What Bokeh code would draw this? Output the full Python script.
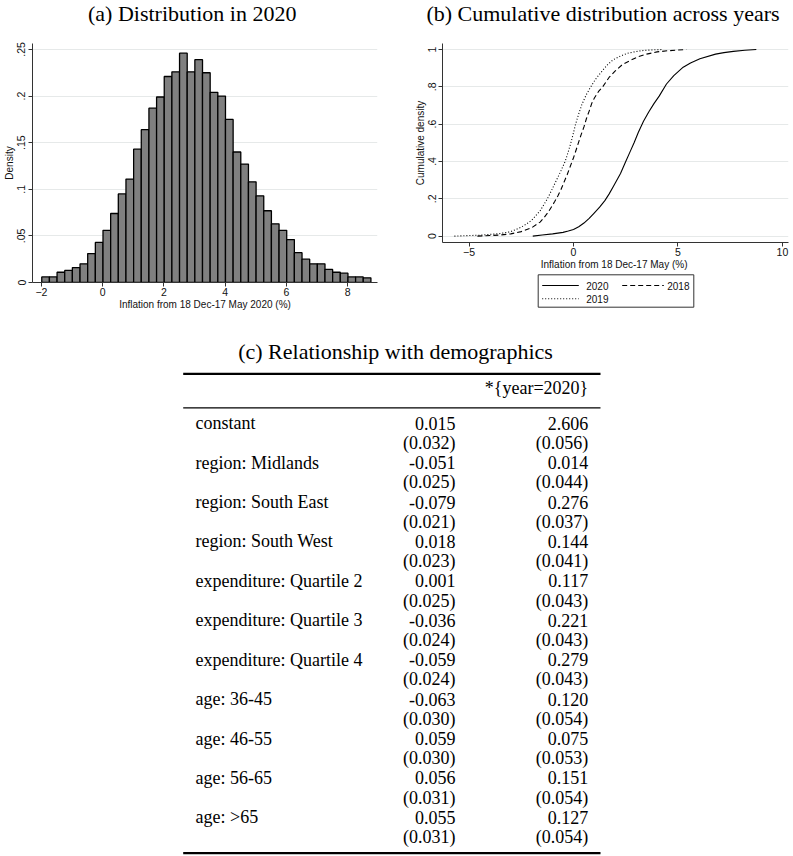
from bokeh.plotting import figure
from bokeh.layouts import row, column
from bokeh.models import Range1d, FixedTicker
from bokeh.core.properties import value
from bokeh.embed import file_html
from bokeh.resources import INLINE

# ---------------- data: panel (a) histogram of 2020 inflation ----------------
bin_start = -1.99
bin_width = 0.25
hist_density = [0.006, 0.006, 0.011, 0.013, 0.016, 0.020, 0.031, 0.043, 0.056, 0.074,
                0.095, 0.111, 0.143, 0.164, 0.187, 0.199, 0.221, 0.226, 0.246, 0.226,
                0.239, 0.225, 0.204, 0.200, 0.175, 0.140, 0.127, 0.108, 0.093, 0.077,
                0.063, 0.056, 0.046, 0.032, 0.025, 0.020, 0.020, 0.014, 0.011, 0.010,
                0.006, 0.006, 0.005]
a_xticks = [-2, 0, 2, 4, 6, 8]
a_yticks = [0, 0.05, 0.1, 0.15, 0.2, 0.25]
a_ylabels = ["0", ".05", ".1", ".15", ".2", ".25"]

# ---------------- data: panel (b) cumulative distributions ----------------
cdf2020_x = [-1.95, -1.5, -1.0, -0.5, -0.25, 0.0, 0.25, 0.5, 0.75, 1.0, 1.25, 1.5, 1.7,
             1.9, 2.25, 2.5, 2.7, 2.9, 3.1, 3.35, 3.6, 3.85, 4.1, 4.45, 4.8, 5.25, 5.6,
             6.05, 6.8, 7.2, 7.65, 8.2, 8.75]
cdf2020_y = [0.0, 0.006, 0.012, 0.02, 0.027, 0.035, 0.05, 0.07, 0.095, 0.125, 0.155, 0.19,
             0.225, 0.265, 0.335, 0.40, 0.45, 0.50, 0.555, 0.615, 0.665, 0.71, 0.75, 0.815,
             0.86, 0.905, 0.928, 0.95, 0.975, 0.983, 0.99, 0.996, 1.0]
cdf2018_x = [-4.6, -4.0, -3.5, -3.0, -2.5, -2.0, -1.6, -1.4, -1.2, -0.9, -0.75, -0.6, -0.45,
             -0.3, 0.0, 0.12, 0.25, 0.37, 0.5, 0.62, 0.75, 0.87, 1.0, 1.2, 1.4, 1.7, 2.0,
             2.35, 2.7, 3.1, 3.5, 4.0, 4.5, 5.4]
cdf2018_y = [0.0, 0.003, 0.006, 0.012, 0.024, 0.045, 0.075, 0.10, 0.13, 0.185, 0.215, 0.25,
             0.29, 0.33, 0.42, 0.46, 0.505, 0.545, 0.585, 0.63, 0.67, 0.71, 0.74, 0.775, 0.80,
             0.85, 0.885, 0.92, 0.94, 0.962, 0.975, 0.987, 0.993, 1.0]
cdf2019_x = [-5.7, -5.0, -4.5, -4.0, -3.5, -3.0, -2.5, -2.25, -2.0, -1.8, -1.6, -1.25, -1.07,
             -0.9, -0.75, -0.6, -0.5, -0.4, -0.27, -0.15, -0.02, 0.1, 0.25, 0.4, 0.6, 0.8,
             1.05, 1.3, 1.6, 1.9, 2.25, 2.6, 2.95, 3.3, 3.8, 4.3]
cdf2019_y = [0.0, 0.003, 0.005, 0.009, 0.014, 0.024, 0.048, 0.065, 0.085, 0.11, 0.135, 0.20,
             0.24, 0.28, 0.315, 0.35, 0.375, 0.40, 0.445, 0.49, 0.545, 0.60, 0.655, 0.705,
             0.755, 0.795, 0.84, 0.875, 0.915, 0.945, 0.965, 0.98, 0.988, 0.994, 0.998, 1.0]
b_xticks = [-5, 0, 5, 10]
b_yticks = [0, 0.2, 0.4, 0.6, 0.8, 1]
b_ylabels = ["0", ".2", ".4", ".6", ".8", "1"]
legend_years = ["2020", "2018", "2019"]
legend_dashes = ["solid", "5 3", "1 2"]

# ---------------- data: panel (c) regression table ----------------
reg_labels = ["constant", "region: Midlands", "region: South East", "region: South West",
              "expenditure: Quartile 2", "expenditure: Quartile 3", "expenditure: Quartile 4",
              "age: 36-45", "age: 46-55", "age: 56-65", "age: >65"]
coef_base = [0.015, -0.051, -0.079, 0.018, 0.001, -0.036, -0.059, -0.063, 0.059, 0.056, 0.055]
se_base = [0.032, 0.025, 0.021, 0.023, 0.025, 0.024, 0.024, 0.030, 0.030, 0.031, 0.031]
coef_2020 = [2.606, 0.014, 0.276, 0.144, 0.117, 0.221, 0.279, 0.120, 0.075, 0.151, 0.127]
se_2020 = [0.056, 0.044, 0.037, 0.041, 0.043, 0.043, 0.043, 0.054, 0.053, 0.054, 0.054]
col_headers = ["", "*{year=2020}"]

# ---------------- styles ----------------
SANS = "Liberation Sans"
SERIF = "Liberation Serif"
AXIS = "#333333"
TXT = "#111111"
GRID = "#e6e9e9"
W = 790


def blank_fig(w, h, x0=0, x1=None, left=0, right=0):
    f = figure(width=w, height=h, x_range=Range1d(x0, w if x1 is None else x1),
               y_range=Range1d(h, 0), min_border=0, min_border_left=left,
               min_border_right=right, x_axis_location=None, y_axis_location=None,
               output_backend="svg", toolbar_location=None)
    f.grid.visible = False
    f.outline_line_color = None
    return f


def style_axes(p, yticks, ylabels, xticks, xlabel, ylabel, ystand):
    p.xaxis.ticker = FixedTicker(ticks=xticks)
    p.yaxis.ticker = FixedTicker(ticks=yticks)
    p.yaxis.major_label_overrides = dict(zip(yticks, ylabels))
    p.xaxis.axis_label = xlabel
    p.yaxis.axis_label = ylabel
    for ax in (p.xaxis[0], p.yaxis[0]):
        ax.axis_line_color = AXIS
        ax.axis_line_width = 1
        ax.major_tick_line_color = AXIS
        ax.major_tick_out = 4
        ax.major_tick_in = 0
        ax.minor_tick_line_color = None
        ax.major_label_text_font = SANS
        ax.major_label_text_font_size = "10.5px"
        ax.major_label_text_color = TXT
        ax.axis_label_text_font = SANS
        ax.axis_label_text_font_size = "10px"
        ax.axis_label_text_font_style = "normal"
        ax.axis_label_text_color = TXT
    p.yaxis.major_label_orientation = "vertical"
    p.xaxis.major_label_standoff = 1
    p.xaxis.axis_label_standoff = 0
    p.yaxis.major_label_standoff = ystand
    p.yaxis.axis_label_standoff = 0
    p.xgrid.visible = False
    p.ygrid.grid_line_color = GRID
    p.ygrid.grid_line_width = 1
    p.outline_line_color = None
    p.background_fill_color = "white"
    p.border_fill_color = "white"


# text anchors sit ~0.35em above the drawn baseline in this renderer
def lift(px):
    return 0.35 * px


# ---------------- title strip ----------------
strip = blank_fig(W, 30)
strip.text(x=[191.7, 602.5], y=[20.5 - lift(22), 20.5 - lift(22)],
           text=["(a) Distribution in 2020", "(b) Cumulative distribution across years"],
           text_font=value(SERIF), text_font_size="22px", text_align="center",
           text_baseline="alphabetic", text_color="black")

# ---------------- panel (a) ----------------
edges_left = [bin_start + i * bin_width for i in range(len(hist_density))]
edges_right = [e + bin_width for e in edges_left]
p1 = figure(width=400, height=282, x_range=Range1d(-2.2925, 8.975), y_range=Range1d(0, 0.2564),
            min_border_left=30, min_border_right=23, min_border_top=13, min_border_bottom=29,
            output_backend="svg", toolbar_location=None)
p1.quad(left=edges_left, right=edges_right, top=hist_density, bottom=0,
        fill_color="#808080", line_color="black", line_width=1.3)
style_axes(p1, a_yticks, a_ylabels, a_xticks, "Inflation from 18 Dec-17 May 2020 (%)", "Density", 3)

# ---------------- panel (b) ----------------
p2 = figure(width=390, height=242, x_range=Range1d(-6.27, 10.29), y_range=Range1d(-0.0342, 1.032),
            min_border_left=42, min_border_right=2, min_border_top=13, min_border_bottom=29,
            output_backend="svg", toolbar_location=None)
p2.line(cdf2020_x, cdf2020_y, line_color="black", line_width=1.1, line_join="round")
p2.line(cdf2018_x, cdf2018_y, line_color="black", line_width=1.1, line_join="round",
        line_dash=legend_dashes[1])
p2.line(cdf2019_x, cdf2019_y, line_color="black", line_width=1.1, line_join="round",
        line_dash=legend_dashes[2])
style_axes(p2, b_yticks, b_ylabels, b_xticks, "Inflation from  18 Dec-17 May (%)",
           "Cumulative density", 2)

# legend for panel (b), drawn below its axis title (same frame as panel b)
leg = blank_fig(390, 40, x0=42, x1=388, left=42, right=2)
leg.quad(left=[137.7], right=[293.3], top=[2.3], bottom=[34.7],
         fill_color="white", line_color=AXIS, line_width=1)
key_x0 = [141.7, 221.7, 141.7]
key_x1 = [178.3, 263.3, 178.3]
key_t = [185.7, 266.7, 185.7]
key_y = [13.0, 13.0, 26.3]
for i, yr in enumerate(legend_years):
    leg.line([key_x0[i], key_x1[i]], [key_y[i], key_y[i]], line_color="black",
             line_width=1.1, line_dash=legend_dashes[i])
leg.text(x=key_t, y=[k + 3.6 - lift(10) for k in key_y], text=legend_years,
         text_font=value(SANS), text_font_size="10px", text_align="left",
         text_baseline="alphabetic", text_color=TXT)

# ---------------- panel (c): table ----------------
tab_h = 543
line_step = 19.71
first_base = 117.0
y_top = -first_base / line_step
y_bot = (tab_h - first_base) / line_step
p3 = figure(width=W, height=tab_h, x_range=Range1d(0, W), y_range=Range1d(y_bot, y_top),
            min_border=0, x_axis_location=None, y_axis_location=None,
            output_backend="svg", toolbar_location=None)
p3.grid.visible = False
p3.outline_line_color = None

x_label, x_col1, x_col2, x_mid = 195, 455, 587.7, 395
rule_l, rule_r = 182.7, 600
body_shift = lift(18) / line_step
title_shift = lift(22) / line_step
serif_kw = dict(text_font=value(SERIF), text_font_size="18px", text_baseline="alphabetic",
                text_color="black")

p3.text(x=[x_mid], y=[-3.551 - title_shift], text=["(c) Relationship with demographics"],
        text_align="center", text_font=value(SERIF), text_font_size="22px",
        text_baseline="alphabetic", text_color="black")
p3.segment(x0=[rule_l, rule_l], x1=[rule_r, rule_r], y0=[-2.826, 21.497], y1=[-2.826, 21.497],
           line_color="black", line_width=2.2)
p3.segment(x0=[rule_l], x1=[rule_r], y0=[-1.101], y1=[-1.101], line_color="black", line_width=1.3)
p3.text(x=[x_col1, x_col2], y=[-1.776 - body_shift] * 2, text=col_headers, text_align="right",
        **serif_kw)

n = len(reg_labels)
coef_lines = [2 * i - body_shift for i in range(n)]
se_lines = [2 * i + 1 - body_shift for i in range(n)]
p3.text(x=[x_label] * n, y=coef_lines, text=reg_labels, text_align="left", **serif_kw)
p3.text(x=[x_col1] * n, y=coef_lines, text=[f"{v:.3f}" for v in coef_base], text_align="right", **serif_kw)
p3.text(x=[x_col1] * n, y=se_lines, text=[f"({v:.3f})" for v in se_base], text_align="right", **serif_kw)
p3.text(x=[x_col2] * n, y=coef_lines, text=[f"{v:.3f}" for v in coef_2020], text_align="right", **serif_kw)
p3.text(x=[x_col2] * n, y=se_lines, text=[f"({v:.3f})" for v in se_2020], text_align="right", **serif_kw)

layout = column(strip, row(p1, column(p2, leg)), p3)
open("out.html", "w").write(file_html(layout, INLINE, title="Inflation distribution"))
